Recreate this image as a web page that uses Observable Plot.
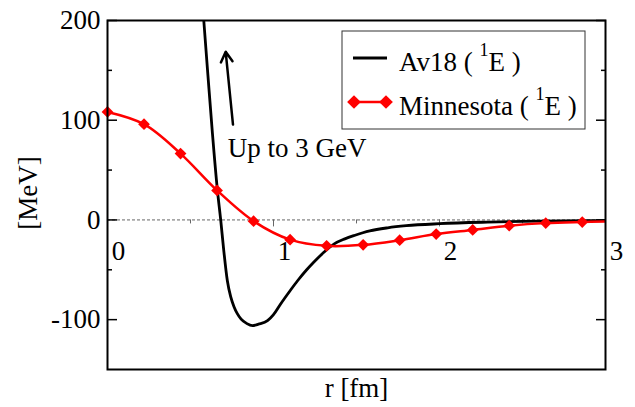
<!DOCTYPE html>
<html>
<head>
<meta charset="utf-8">
<script src="https://cdn.jsdelivr.net/npm/d3@7"></script>
<script src="https://cdn.jsdelivr.net/npm/@observablehq/plot@0.6"></script>
<style>
  html, body { margin: 0; padding: 0; background: #fff; }
</style>
</head>
<body>
<div id="chart"></div>
<script>
// ---- Data ----
// Minnesota (1E) potential, marker points
const minnR = [0, 0.22, 0.44, 0.66, 0.88, 1.10, 1.32, 1.54, 1.76, 1.98, 2.20, 2.42, 2.64, 2.86];
const minnV = [108.3, 96, 66.5, 29.6, -1.2, -19.8, -26, -25, -20.3, -14.2, -10, -5.8, -3.2, -2.1];
// line continues to the right edge
const minnTailR = [3.0];
const minnTailV = [-1.6];

// Av18 (1E) potential (goes up to 3 GeV, clipped at 200 MeV)
const av18R = [0.55, 0.58, 0.605, 0.632, 0.662, 0.682, 0.70, 0.722, 0.742, 0.762, 0.782, 0.805, 0.84, 0.873, 0.91, 0.964, 1.0, 1.044, 1.10, 1.145, 1.2, 1.245, 1.30, 1.366, 1.43, 1.487, 1.58, 1.688, 1.8, 2.0, 2.29, 2.59, 3.0];
const av18V = [270, 200, 145, 87, 30, 0, -30, -61, -77, -87, -94, -99.5, -104, -106, -104.5, -101, -95, -84, -71, -61, -50, -42, -33, -24, -19, -15.6, -11, -7.9, -5.8, -3.8, -2.2, -1.2, -0.6];

// Axes / ticks
const yMajorTicks = [-100, 0, 100, 200];
const yTickLabels = ["-100", "0", "100", "200"];
const yMinorTicks = [-50, 50, 150];
const xMajorTicks = [0, 1, 2, 3];
const xTickLabels = ["0", "1", "2", "3"];
const xMinorTicks = [0.5, 1.5, 2.5];
const xLabel = "r [fm]";
const yLabel = "[MeV]";

// Legend
const seriesNames = ["Av18", "Minnesota"];
const seriesChannel = "1";
const seriesColors = ["#000000", "#ff0000"];

// Annotation
const annotText = ["Up to 3 GeV"];
const annotTextR = [0.724];
const annotTextV = [71.5];
const arrowFromR = [0.756], arrowFromV = [95.7];
const arrowToR = [0.712], arrowToV = [168.6];

// ---- Build tables ----
const minnPts = minnR.map((r, i) => ({r, v: minnV[i]}));
const minnLine = minnPts.concat(minnTailR.map((r, i) => ({r, v: minnTailV[i]})));
const av18Pts = av18R.map((r, i) => ({r, v: av18V[i]}));
const arrows = arrowFromR.map((r, i) => ({x1: r, y1: arrowFromV[i], x2: arrowToR[i], y2: arrowToV[i]}));
const annots = annotText.map((t, i) => ({t, r: annotTextR[i], v: annotTextV[i]}));

const FONT = "'Liberation Serif', 'Times New Roman', Times, serif";

const chart = Plot.plot({
  width: 635,
  height: 407,
  marginLeft: 107,
  marginRight: 30,
  marginTop: 20,
  marginBottom: 38,
  style: {fontFamily: FONT, fontSize: "27px", background: "white", color: "black", overflow: "visible"},
  x: {domain: [0, 3], axis: null},
  y: {domain: [-150, 200]},
  marks: [
    // zero line
    Plot.ruleY([0], {stroke: "#666", strokeWidth: 1, strokeDasharray: "3,2"}),
    // x ticks on the zero line
    Plot.ruleX(xMajorTicks, {x: d => d, y1: 0, y2: -7, stroke: "#666", strokeWidth: 1}),
    Plot.ruleX(xMinorTicks, {x: d => d, y1: 0, y2: -4, stroke: "#666", strokeWidth: 1}),
    Plot.text(xMajorTicks, {x: d => d, y: 0, text: (d, i) => xTickLabels[i], dx: 11, dy: 31, fontSize: 27, lineAnchor: "middle", textAnchor: "middle", fill: "black"}),
    // y axes: inward ticks both sides, labels on the left
    Plot.axisY({anchor: "left", ticks: yMajorTicks, tickSize: -10, fill: "none", strokeWidth: 1.5, label: null}),
    Plot.axisY({anchor: "left", ticks: yMinorTicks, tickSize: -5, fill: "none", strokeWidth: 1.5, label: null}),
    Plot.axisY({anchor: "right", ticks: yMajorTicks, tickSize: -10, fill: "none", strokeWidth: 1.5, label: null}),
    Plot.axisY({anchor: "right", ticks: yMinorTicks, tickSize: -5, fill: "none", strokeWidth: 1.5, label: null}),
    Plot.axisY({anchor: "left", ticks: yMajorTicks, tickSize: 0, tickPadding: 7, fontSize: 27,
                tickFormat: d => yTickLabels[yMajorTicks.indexOf(d)], label: null}),
    // series
    Plot.line(av18Pts, {x: "r", y: "v", stroke: seriesColors[0], strokeWidth: 2.8, curve: "monotone-x", clip: true}),
    Plot.line(minnLine, {x: "r", y: "v", stroke: seriesColors[1], strokeWidth: 2.5, curve: "catmull-rom", clip: true}),
    Plot.dot(minnPts, {x: "r", y: "v", symbol: "diamond2", r: 5.3, fill: seriesColors[1], stroke: "none"}),
    // annotation
    Plot.arrow(arrows, {x1: "x1", y1: "y1", x2: "x2", y2: "y2", stroke: "black", strokeWidth: 2.5, headLength: 7, headAngle: 60}),
    Plot.text(annots, {x: "r", y: "v", text: "t", textAnchor: "start", lineAnchor: "middle", fontSize: 27, fill: "black"}),
    // axis titles
    Plot.text([xLabel], {frameAnchor: "bottom", text: d => d, dy: 19, lineAnchor: "middle", fontSize: 27, fill: "black"}),
    Plot.text([yLabel], {frameAnchor: "left", text: d => d, dx: -79, dy: -2, rotate: -90, lineAnchor: "middle", textAnchor: "middle", fontSize: 27, fill: "black"}),
    // frame
    Plot.frame({stroke: "black", strokeWidth: 2})
  ]
});

// ---- Legend (inside the frame, top right) ----
const svg = d3.select(chart);
const lg = svg.append("g").attr("font-family", FONT).attr("font-size", 27).attr("fill", "black").attr("text-anchor", "start");
lg.append("rect").attr("x", 342).attr("y", 31).attr("width", 243).attr("height", 98)
  .attr("fill", "white").attr("stroke", "#333").attr("stroke-width", 1);
const rows = [{y: 58, base: 71}, {y: 102, base: 115}];
seriesNames.forEach((name, i) => {
  const row = rows[i];
  lg.append("line").attr("x1", 353).attr("x2", 387).attr("y1", row.y).attr("y2", row.y)
    .attr("stroke", seriesColors[i]).attr("stroke-width", i === 0 ? 3 : 2.5);
  if (i === 1) {
    const sym = d3.symbol(d3.symbolDiamond2, 120)();
    [354, 386].forEach(cx => lg.append("path").attr("d", sym).attr("transform", `translate(${cx},${row.y})`).attr("fill", seriesColors[i]));
  }
  const t = lg.append("text").attr("x", 399).attr("y", row.base).attr("text-anchor", "start");
  t.append("tspan").text(name + " ( ");
  t.append("tspan").attr("font-size", 18).attr("dy", -15).text(seriesChannel);
  t.append("tspan").attr("dy", 15).text("E )");
});

document.getElementById("chart").appendChild(chart);
</script>
</body>
</html>
